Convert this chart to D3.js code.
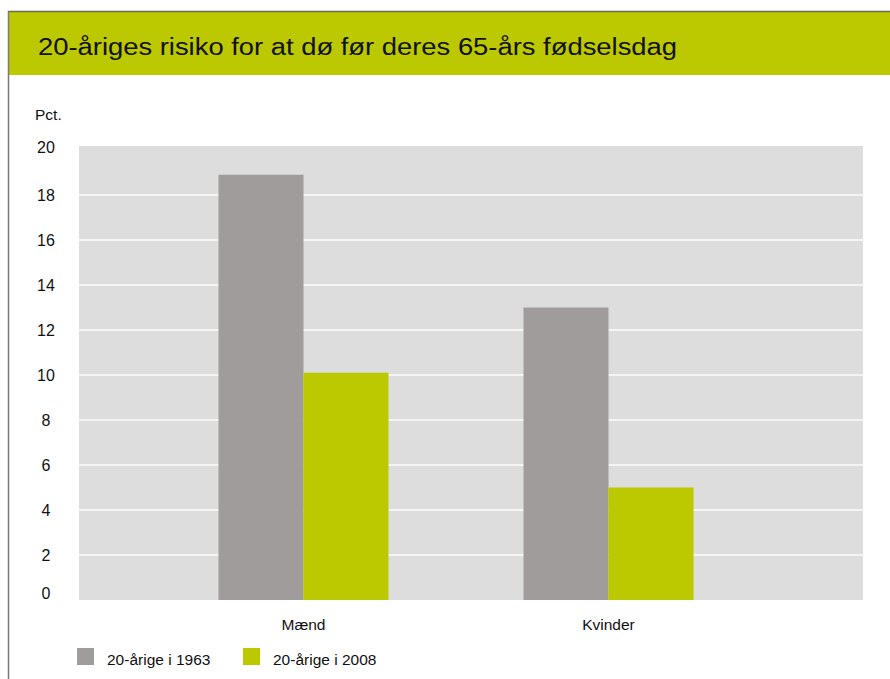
<!DOCTYPE html>
<html>
<head>
<meta charset="utf-8">
<script src="https://cdn.jsdelivr.net/npm/d3@7"></script>
<style>
  body { margin: 0; background: #fff; }
  svg { display: block; font-family: "Liberation Sans", Arial, sans-serif; }
</style>
</head>
<body>
<div id="chart"></div>
<script>
// --- Data ---
const title = '20-åriges risiko for at dø før deres 65-års fødselsdag';
const categories = ['Mænd', 'Kvinder'];
const seriesNames = ['20-årige i 1963', '20-årige i 2008'];
const values1963 = [18.9, 13.0];
const values2008 = [10.1, 5.0];
const yTicks = [0, 2, 4, 6, 8, 10, 12, 14, 16, 18, 20];
const colors = ['#a09c9c', '#bcc800'];

const W = 890, H = 679;
const svg = d3.select('#chart').append('svg').attr('width', W).attr('height', H);

// --- Frame + header ---
svg.append('rect').attr('x', 9).attr('y', 12).attr('width', W - 9).attr('height', 63).attr('fill', '#bcc800');
svg.append('line').attr('x1', 8).attr('x2', W).attr('y1', 11.5).attr('y2', 11.5)
    .attr('stroke', '#6b6b50').attr('stroke-width', 1.5);
svg.append('line').attr('x1', 8.5).attr('x2', 8.5).attr('y1', 11).attr('y2', H)
    .attr('stroke', '#7a7a7a').attr('stroke-width', 1.5);
svg.append('text')
    .attr('x', 38).attr('y', 55)
    .attr('font-family', '"Liberation Sans", Arial, sans-serif')
    .attr('font-size', 23.5)
    .attr('textLength', 639)
    .attr('lengthAdjust', 'spacingAndGlyphs')
    .attr('fill', '#111')
    .text(title);

// --- Scales ---
const plot = { left: 79, right: 863, top: 146, bottom: 600 };
const y = d3.scaleLinear().domain([0, 20]).range([plot.bottom, 150]);
const x0 = d3.scaleBand().domain(categories).range([151, 761])
    .paddingInner(0.4426).paddingOuter(0.2213);
const x1 = d3.scaleBand().domain(seriesNames).range([0, x0.bandwidth()]);

// plot background
svg.append('rect')
    .attr('x', plot.left).attr('y', plot.top)
    .attr('width', plot.right - plot.left).attr('height', plot.bottom - plot.top)
    .attr('fill', '#dddddd');

// gridlines
svg.append('g').selectAll('line')
    .data(yTicks.filter(d => d > 0 && d < 20))
    .enter().append('line')
    .attr('x1', plot.left).attr('x2', plot.right)
    .attr('y1', d => y(d)).attr('y2', d => y(d))
    .attr('stroke', '#f4f4f4').attr('stroke-width', 2);

// y tick labels (top and bottom labels sit slightly inside)
svg.append('g').selectAll('text')
    .data(yTicks)
    .enter().append('text')
    .attr('x', 46)
    .attr('y', d => d === 20 ? y(d) - 3 : d === 0 ? y(d) - 7 : y(d))
    .attr('dy', '0.35em')
    .attr('text-anchor', 'middle')
    .attr('font-size', 16)
    .attr('fill', '#111')
    .text(d => d);

svg.append('text')
    .attr('x', 35).attr('y', 120)
    .attr('font-size', 15.5).attr('fill', '#111')
    .text('Pct.');

// --- Bars ---
const rows = categories.map((c, i) => ({ cat: c, vals: [values1963[i], values2008[i]] }));
const groups = svg.append('g').selectAll('g')
    .data(rows).enter().append('g')
    .attr('transform', d => `translate(${x0(d.cat)},0)`);

groups.selectAll('rect')
    .data(d => d.vals.map((v, j) => ({ name: seriesNames[j], v, j })))
    .enter().append('rect')
    .attr('x', d => x1(d.name))
    .attr('y', d => y(d.v))
    .attr('width', x1.bandwidth())
    .attr('height', d => y(0) - y(d.v))
    .attr('fill', d => colors[d.j]);

// category labels
svg.append('g').selectAll('text')
    .data(categories).enter().append('text')
    .attr('x', d => x0(d) + x0.bandwidth() / 2)
    .attr('y', 630)
    .attr('text-anchor', 'middle')
    .attr('font-size', 15.5).attr('fill', '#111')
    .text(d => d);

// --- Legend ---
const legendX = [77, 243];
seriesNames.forEach((name, i) => {
    svg.append('rect')
        .attr('x', legendX[i]).attr('y', 648)
        .attr('width', 17).attr('height', 17)
        .attr('fill', colors[i]);
    svg.append('text')
        .attr('x', legendX[i] + 30).attr('y', 665)
        .attr('font-size', 15.5).attr('fill', '#111')
        .text(name);
});
</script>
</body>
</html>
